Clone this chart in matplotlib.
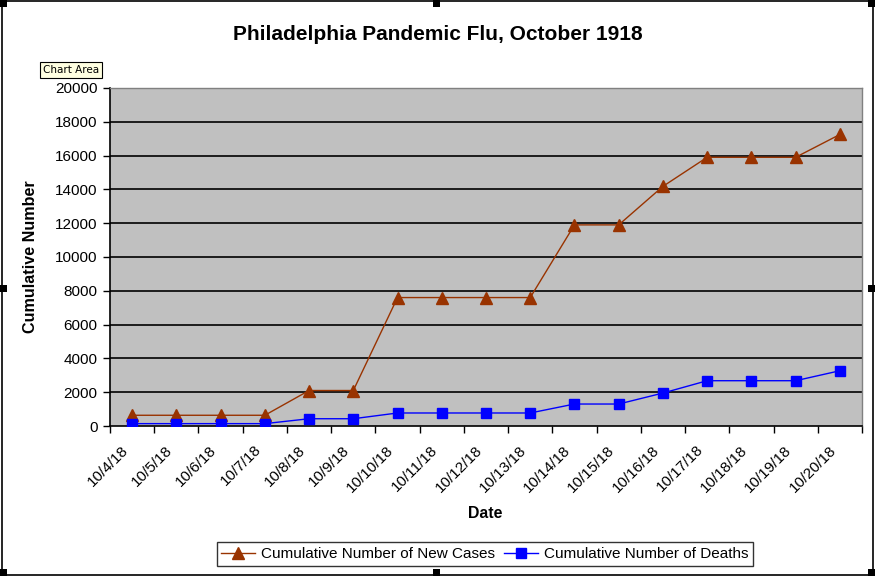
import matplotlib
matplotlib.use("Agg")
import matplotlib.pyplot as plt
from matplotlib.patches import Rectangle

plt.rcParams['font.family'] = ['Liberation Sans', 'DejaVu Sans']

dates = ["10/4/18", "10/5/18", "10/6/18", "10/7/18", "10/8/18", "10/9/18",
         "10/10/18", "10/11/18", "10/12/18", "10/13/18", "10/14/18", "10/15/18",
         "10/16/18", "10/17/18", "10/18/18", "10/19/18", "10/20/18"]
cases = [635, 635, 635, 635, 2100, 2100, 7600, 7600, 7600, 7600,
         11900, 11900, 14180, 15900, 15900, 15900, 17250]
deaths = [140, 140, 140, 140, 430, 430, 770, 770, 770, 770,
          1300, 1300, 1950, 2680, 2680, 2680, 3270]
yticks = list(range(0, 20001, 2000))

W, H = 875, 580
fig = plt.figure(figsize=(W/100, H/100), dpi=100)
fig.patch.set_facecolor('white')

L, R, T, B = 110, 862, 88, 426
ax = fig.add_axes([L/W, 1-B/H, (R-L)/W, (B-T)/H])
ax.set_facecolor('#C0C0C0')

x = list(range(len(dates)))
ax.plot(x, cases, color='#993300', lw=1.0, marker='^', ms=8.5,
        mfc='#993300', mec='#993300', label='Cumulative Number of New Cases', zorder=3)
ax.plot(x, deaths, color='#0000FF', lw=1.0, marker='s', ms=6.5,
        mfc='#0000FF', mec='#0000FF', label='Cumulative Number of Deaths', zorder=3)

ax.set_xlim(-0.5, len(dates)-0.5)
ax.set_ylim(0, 20000)
ax.set_yticks(yticks)
ax.set_yticklabels([str(v) for v in yticks], fontsize=11)
for v in yticks[1:-1]:
    ax.axhline(v, color='black', lw=1.2, zorder=1)

ax.set_xticks([i - 0.5 for i in range(len(dates)+1)], minor=False)
ax.set_xticklabels([''] * (len(dates)+1))
ax.set_xticks([i - 0.25 for i in x], minor=True)
ax.set_xticklabels(dates, minor=True, rotation=45, ha='right',
                   rotation_mode='anchor', fontsize=11)
ax.tick_params(axis='x', which='minor', length=0, pad=12)
ax.tick_params(axis='x', which='major', length=5, width=1, color='black', direction='out')
ax.tick_params(axis='y', length=5, width=1, direction='out', pad=4)

for s in ['top', 'right']:
    ax.spines[s].set_color('#808080')
    ax.spines[s].set_linewidth(1)
for s in ['left', 'bottom']:
    ax.spines[s].set_color('black')
    ax.spines[s].set_linewidth(1.2)

fig.text(438/W, 1-35/H, 'Philadelphia Pandemic Flu, October 1918',
         ha='center', va='center', fontsize=15, fontweight='bold')
fig.text(31/W, 1-257/H, 'Cumulative Number', rotation=90, ha='center',
         va='center', fontsize=11.6, fontweight='bold')
fig.text(485/W, 1-514/H, 'Date', ha='center', va='center', fontsize=11.4,
         fontweight='bold')

leg = fig.legend(loc='center', bbox_to_anchor=(485/W, 1-554/H), ncol=2,
                 fontsize=11, frameon=True, fancybox=False, edgecolor='black',
                 handlelength=2.2, handletextpad=0.4, columnspacing=0.6,
                 borderpad=0.3, borderaxespad=0)
leg.get_frame().set_linewidth(1)

# chart area frame
fig.add_artist(Rectangle((2/W, 1-575/H), 871/W, 574/H, transform=fig.transFigure,
                         fill=False, edgecolor='black', lw=1.2))
# selection handles
for hx, hy in [(0, 0), (433, 0), (868, 0), (0, 285), (868, 285),
               (0, 569), (433, 569), (868, 569)]:
    fig.add_artist(Rectangle((hx/W, 1-(hy+7)/H), 7/W, 7/H, transform=fig.transFigure,
                             facecolor='black', edgecolor='none'))
# tooltip
fig.add_artist(Rectangle((40/W, 1-78/H), 62/W, 16/H, transform=fig.transFigure,
                         facecolor='#FFFFE1', edgecolor='black', lw=0.8))
fig.text(71/W, 1-70/H, 'Chart Area', ha='center', va='center', fontsize=7.5,
         family=['DejaVu Sans'])

fig.savefig('out.png', dpi=100)
